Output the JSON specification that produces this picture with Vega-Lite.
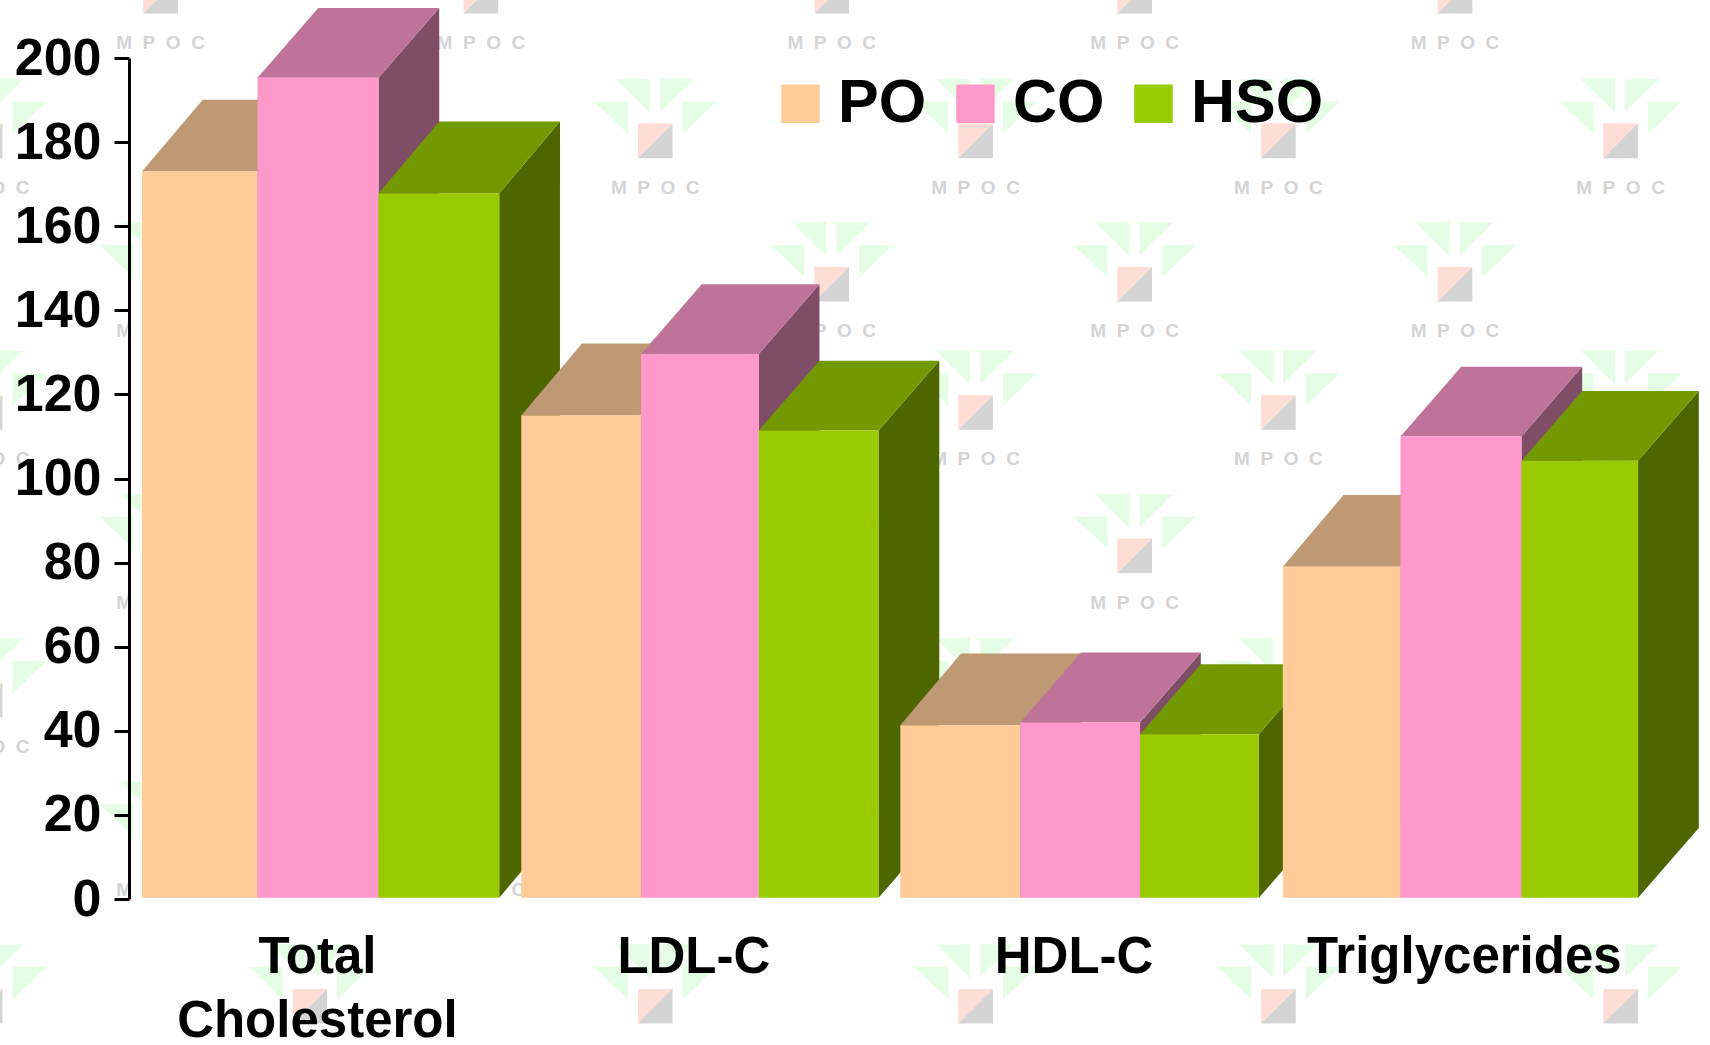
{
  "$schema": "https://vega.github.io/schema/vega-lite/v6.json",
  "width": 1573,
  "height": 841,
  "autosize": {"type": "none"},
  "padding": {"left": 129, "top": 58, "right": 8, "bottom": 146},
  "background": "white",
  "config": {"view": {"stroke": null}, "font": "Liberation Sans"},
  "datasets": {
    "lipids": [
      {"group": "Total Cholesterol", "series": "PO", "value": 173},
      {"group": "Total Cholesterol", "series": "CO", "value": 195.3},
      {"group": "Total Cholesterol", "series": "HSO", "value": 167.8},
      {"group": "LDL-C", "series": "PO", "value": 115},
      {"group": "LDL-C", "series": "CO", "value": 129.6},
      {"group": "LDL-C", "series": "HSO", "value": 111.4},
      {"group": "HDL-C", "series": "PO", "value": 41.3},
      {"group": "HDL-C", "series": "CO", "value": 42},
      {"group": "HDL-C", "series": "HSO", "value": 39.2},
      {"group": "Triglycerides", "series": "PO", "value": 79},
      {"group": "Triglycerides", "series": "CO", "value": 110},
      {"group": "Triglycerides", "series": "HSO", "value": 104.2}
    ],
    "logos": [
      {"u": 0.256, "v": 214.7}, {"u": 2.946, "v": 214.7}, {"u": 5.892, "v": 214.7}, {"u": 8.436, "v": 214.7}, {"u": 11.126, "v": 214.7}, {"u": 13.87, "v": 214.7},
      {"u": 0.256, "v": 146.2}, {"u": 2.946, "v": 146.2}, {"u": 5.892, "v": 146.2}, {"u": 8.436, "v": 146.2}, {"u": 11.126, "v": 146.2}, {"u": 13.87, "v": 146.2},
      {"u": 0.256, "v": 81.6}, {"u": 2.946, "v": 81.6}, {"u": 5.892, "v": 81.6}, {"u": 8.436, "v": 81.6}, {"u": 11.126, "v": 81.6}, {"u": 13.87, "v": 81.6},
      {"u": 0.256, "v": 13.2}, {"u": 2.946, "v": 13.2}, {"u": 5.892, "v": 13.2}, {"u": 8.436, "v": 13.2}, {"u": 11.126, "v": 13.2}, {"u": 13.87, "v": 13.2},
      {"u": -1.217, "v": 180.3}, {"u": 1.51, "v": 180.3}, {"u": 4.41, "v": 180.3}, {"u": 7.1, "v": 180.3}, {"u": 9.643, "v": 180.3}, {"u": 12.516, "v": 180.3},
      {"u": -1.217, "v": 115.7}, {"u": 1.51, "v": 115.7}, {"u": 4.41, "v": 115.7}, {"u": 7.1, "v": 115.7}, {"u": 9.643, "v": 115.7}, {"u": 12.516, "v": 115.7},
      {"u": -1.217, "v": 47.3}, {"u": 1.51, "v": 47.3}, {"u": 4.41, "v": 47.3}, {"u": 7.1, "v": 47.3}, {"u": 9.643, "v": 47.3}, {"u": 12.516, "v": 47.3},
      {"u": -1.217, "v": -25.5}, {"u": 1.51, "v": -25.5}, {"u": 4.41, "v": -25.5}, {"u": 7.1, "v": -25.5}, {"u": 9.643, "v": -25.5}, {"u": 12.516, "v": -25.5}
    ]
  },
  "data": {"name": "lipids"},
  "transform": [
    {"calculate": "indexof(['Total Cholesterol','LDL-C','HDL-C','Triglycerides'], datum.group)", "as": "g"},
    {"calculate": "indexof(['PO','CO','HSO'], datum.series)", "as": "s"},
    {"calculate": "[[0.1,1.07,2.086,3.1],[3.285,4.291,5.279,6.285],[6.468,7.475,8.481,9.479],[9.68,10.668,11.684,12.663]][datum.g][datum.s]", "as": "x0"},
    {"calculate": "[[0.1,1.07,2.086,3.1],[3.285,4.291,5.279,6.285],[6.468,7.475,8.481,9.479],[9.68,10.668,11.684,12.663]][datum.g][datum.s + 1]", "as": "x1"},
    {"calculate": "(datum.s == 0 || (datum.g == 0 && datum.s == 2)) ? 17.1 : 16.6", "as": "depth"}
  ],
  "layer": [
    {
      "data": {"name": "logos"},
      "encoding": {
        "x": {"field": "u", "type": "quantitative", "title": null, "scale": {"domain": [-0.009, 13.2], "nice": false, "zero": false}},
        "y": {"field": "v", "type": "quantitative", "title": null, "scale": {"domain": [0, 200], "nice": false}}
      },
      "layer": [
        {"mark": {"type": "point", "filled": true, "opacity": 1, "strokeWidth": 0, "size": 4, "color": "#e4fde4", "shape": "M-39.5,-61.7L-5.5,-61.7L-5.5,-28.3ZM4.8,-61.7L38.2,-61.7L4.8,-29ZM-61,-39.3L-27.3,-39.3L-27.3,-7.3ZM27.3,-39.3L61.2,-39.3L27.3,-6.7Z"}},
        {"mark": {"type": "point", "filled": true, "opacity": 1, "strokeWidth": 0, "size": 4, "color": "#fdddd5", "shape": "M-17.3,-17.3L17.3,-17.3L-17.3,17.3Z"}},
        {"mark": {"type": "point", "filled": true, "opacity": 1, "strokeWidth": 0, "size": 4, "color": "#d4d4d4", "shape": "M17.3,-17.3L17.3,17.3L-17.3,17.3Z"}},
        {
          "transform": [{"filter": "datum.u < 13"}],
          "mark": {"type": "text", "text": "M\u00a0\u00a0P\u00a0\u00a0O\u00a0\u00a0C", "font": "Liberation Sans", "fontWeight": "bold", "fontSize": 19, "color": "#d4d4d4", "dy": 46.7, "align": "center", "baseline": "middle"}
        }
      ]
    },
    {
      "transform": [
        {"calculate": "[0, 1]", "as": "k"},
        {"flatten": ["k"]},
        {"calculate": "datum.x1 + datum.k * 0.51", "as": "sx"},
        {"calculate": "datum.value + datum.k * datum.depth", "as": "sy"},
        {"calculate": "0.3 + datum.k * datum.depth", "as": "sy2"}
      ],
      "mark": {"type": "area", "orient": "vertical", "opacity": 1},
      "encoding": {
        "x": {"field": "sx", "type": "quantitative", "title": null},
        "y": {"field": "sy", "type": "quantitative", "title": null, "stack": null},
        "y2": {"field": "sy2"},
        "detail": {"field": "group"},
        "color": {"field": "series", "type": "nominal", "legend": null, "scale": {"domain": ["PO", "CO", "HSO"], "range": ["#80664d", "#804d66", "#4d6600"]}}
      }
    },
    {
      "transform": [
        {"calculate": "[0, 1]", "as": "k"},
        {"flatten": ["k"]},
        {"calculate": "datum.x0 + datum.k * 0.51", "as": "tx"},
        {"calculate": "datum.x1 + datum.k * 0.51", "as": "tx2"},
        {"calculate": "datum.value + datum.k * datum.depth", "as": "ty"}
      ],
      "mark": {"type": "area", "orient": "horizontal", "opacity": 1},
      "encoding": {
        "y": {"field": "ty", "type": "quantitative", "title": null},
        "x": {"field": "tx", "type": "quantitative", "title": null, "stack": null},
        "x2": {"field": "tx2"},
        "detail": {"field": "group"},
        "color": {"field": "series", "type": "nominal", "legend": null, "scale": {"domain": ["PO", "CO", "HSO"], "range": ["#bf9973", "#bf7399", "#739900"]}}
      }
    },
    {
      "mark": {"type": "rect"},
      "encoding": {
        "x": {
          "field": "x0",
          "type": "quantitative",
          "title": null,
          "axis": {
            "domain": false,
            "ticks": false,
            "grid": false,
            "zindex": 1,
            "values": [1.569, 4.73, 7.923, 11.2],
            "labelExpr": "datum.value < 2 ? ['Total', 'Cholesterol'] : datum.value < 5 ? 'LDL-C' : datum.value < 9 ? 'HDL-C' : 'Triglycerides'",
            "labelFont": "Liberation Sans",
            "labelFontWeight": "bold",
            "labelFontSize": 51,
            "labelColor": "black",
            "labelPadding": 33,
            "labelLineHeight": 64,
            "labelLimit": 1000,
            "labelFlush": false,
            "labelOverlap": false,
            "labelBound": false
          }
        },
        "x2": {"field": "x1"},
        "y": {
          "field": "value",
          "type": "quantitative",
          "title": null,
          "axis": {
            "grid": false,
            "zindex": 1,
            "values": [0, 20, 40, 60, 80, 100, 120, 140, 160, 180, 200],
            "domainColor": "black",
            "domainWidth": 3,
            "tickColor": "black",
            "tickWidth": 3,
            "tickSize": 15,
            "labelFont": "Liberation Sans",
            "labelFontWeight": "bold",
            "labelFontSize": 52,
            "labelColor": "black",
            "labelPadding": 13,
            "labelOverlap": false
          }
        },
        "y2": {"datum": 0.3},
        "color": {
          "field": "series",
          "type": "nominal",
          "scale": {"domain": ["PO", "CO", "HSO"], "range": ["#ffcc99", "#ff99cc", "#99cc00"]},
          "legend": {
            "title": null,
            "orient": "none",
            "direction": "horizontal",
            "legendX": 641,
            "legendY": 15,
            "padding": 0,
            "symbolType": "square",
            "symbolSize": 1480,
            "symbolStrokeWidth": 0,
            "symbolOpacity": 1,
            "labelFont": "Liberation Sans",
            "labelFontWeight": "bold",
            "labelFontSize": 61,
            "labelColor": "black",
            "labelOffset": 7,
            "columnPadding": 18
          }
        }
      }
    }
  ],
  "resolve": {"scale": {"color": "independent"}}
}
